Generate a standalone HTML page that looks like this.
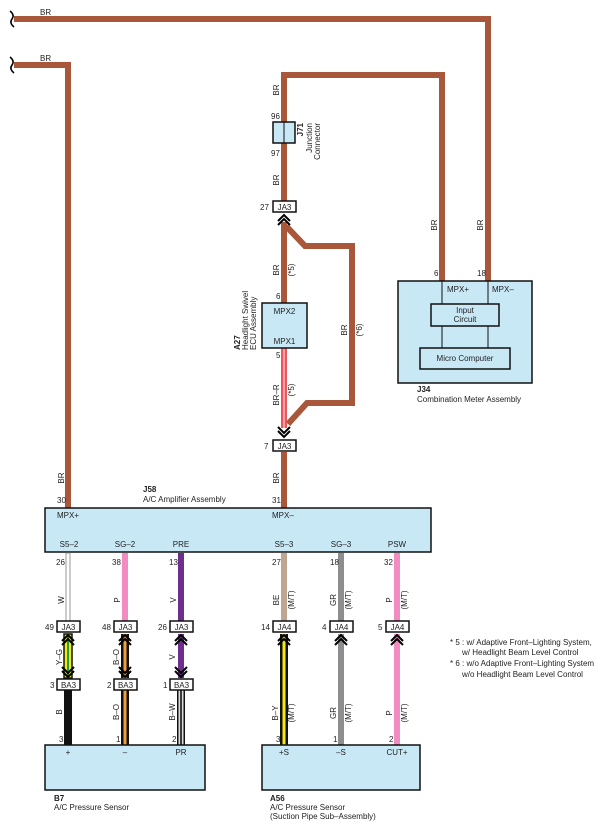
<!DOCTYPE html>
<html><head><meta charset="utf-8"><style>
html,body{margin:0;padding:0;background:#fff;}
svg{display:block;font-family:"Liberation Sans",sans-serif;}
text{font-size:8px;fill:#222;}
.b{font-weight:bold;}
</style></head><body>
<svg width="606" height="830" viewBox="0 0 606 830" xmlns="http://www.w3.org/2000/svg">
<defs>
<g id="chu"><path d="M-6,6 L0,0 L6,6 M-6,10 L0,4 L6,10" fill="none" stroke="#000" stroke-width="2"/></g>
<g id="chd"><path d="M-6,-6 L0,0 L6,-6 M-6,-10 L0,-4 L6,-10" fill="none" stroke="#000" stroke-width="2"/></g>
</defs>
<g fill="none" stroke="#a9573a" stroke-width="6">
<path d="M14,19 H488 V281"/>
<path d="M14,65 H68 V508"/>
<path d="M284,122 V75 H442 V281"/>
<path d="M284,143 V201"/>
<path d="M284,222 V303"/>
<path d="M286,226 L305,246 H352 V403 H307 L288,424"/>
<path d="M284,452 V508"/>
</g>
<path d="M10,11 q5,4 2,8 q-3,4 2,8" fill="none" stroke="#000" stroke-width="1.5"/>
<path d="M10,57 q5,4 2,8 q-3,4 2,8" fill="none" stroke="#000" stroke-width="1.5"/>
<text x="40" y="15">BR</text>
<text x="40" y="61">BR</text>
<!-- BR-R -->
<rect x="281" y="348" width="6" height="80" fill="#e8585a"/>
<rect x="283.3" y="348" width="1.4" height="80" fill="#f8c0c0"/>
<!-- J71 -->
<rect x="273" y="122" width="22" height="21" fill="#c8e8f6" stroke="#111" stroke-width="1.5"/>
<line x1="284" y1="122" x2="284" y2="143" stroke="#111" stroke-width="1"/>
<text x="271" y="119">96</text><text x="271" y="156">97</text>
<text transform="translate(303,123) rotate(-90)" text-anchor="end" class="b">J71</text>
<text transform="translate(312,123) rotate(-90)" text-anchor="end">Junction</text>
<text transform="translate(320,123) rotate(-90)" text-anchor="end">Connector</text>
<text transform="translate(279,90) rotate(-90)" text-anchor="middle">BR</text>
<text transform="translate(279,180) rotate(-90)" text-anchor="middle">BR</text>
<!-- JA3 27 -->
<rect x="273" y="201" width="23" height="11" fill="#fff" stroke="#111" stroke-width="1.5"/>
<text x="284.5" y="210" text-anchor="middle">JA3</text><text x="260" y="210">27</text>
<use href="#chu" x="284" y="215"/>
<text transform="translate(279,270) rotate(-90)" text-anchor="middle">BR</text>
<text transform="translate(294,270) rotate(-90)" text-anchor="middle">(*5)</text>
<text transform="translate(347,330) rotate(-90)" text-anchor="middle">BR</text>
<text transform="translate(362,330) rotate(-90)" text-anchor="middle">(*6)</text>
<!-- A27 -->
<rect x="262" y="303" width="45" height="45" fill="#c8e8f6" stroke="#111" stroke-width="1.5"/>
<text x="284.5" y="314" text-anchor="middle">MPX2</text>
<text x="284.5" y="344" text-anchor="middle">MPX1</text>
<text x="276" y="299">6</text><text x="276" y="358">5</text>
<text transform="translate(240,350) rotate(-90)" class="b">A27</text>
<text transform="translate(248,350) rotate(-90)">Headlight Swivel</text>
<text transform="translate(256,350) rotate(-90)">ECU Assembly</text>
<text transform="translate(279,395) rotate(-90)" text-anchor="middle">BR–R</text>
<text transform="translate(294,390) rotate(-90)" text-anchor="middle">(*5)</text>
<use href="#chd" x="284" y="437"/>
<rect x="273" y="440" width="23" height="11" fill="#fff" stroke="#111" stroke-width="1.5"/>
<text x="284.5" y="449" text-anchor="middle">JA3</text><text x="264" y="449">7</text>
<text transform="translate(279,478) rotate(-90)" text-anchor="middle">BR</text>
<text transform="translate(64,478) rotate(-90)" text-anchor="middle">BR</text>
<!-- J34 -->
<rect x="398" y="281" width="134" height="102" fill="#c8e8f6" stroke="#111" stroke-width="1.5"/>
<line x1="442" y1="281" x2="442" y2="348" stroke="#111"/>
<line x1="488" y1="281" x2="488" y2="348" stroke="#111"/>
<rect x="431" y="304" width="68" height="22" fill="#c8e8f6" stroke="#111" stroke-width="1.5"/>
<rect x="420" y="348" width="90" height="21" fill="#c8e8f6" stroke="#111" stroke-width="1.5"/>
<text x="447" y="292">MPX+</text><text x="492" y="292">MPX–</text>
<text x="465" y="313" text-anchor="middle">Input</text>
<text x="465" y="322" text-anchor="middle">Circuit</text>
<text x="465" y="361" text-anchor="middle">Micro Computer</text>
<text x="434" y="276">6</text><text x="477" y="276">18</text>
<text transform="translate(437,225) rotate(-90)" text-anchor="middle">BR</text>
<text transform="translate(483,225) rotate(-90)" text-anchor="middle">BR</text>
<text x="417" y="392" class="b">J34</text>
<text x="417" y="402">Combination Meter Assembly</text>
<!-- J58 -->
<text x="143" y="492" class="b">J58</text>
<text x="143" y="502">A/C Amplifier Assembly</text>
<text x="57" y="503">30</text><text x="272" y="503">31</text>
<rect x="45" y="508" width="386" height="44" fill="#c8e8f6" stroke="#111" stroke-width="1.5"/>
<text x="57" y="518">MPX+</text><text x="272" y="518">MPX–</text>
<g text-anchor="middle">
<text x="69" y="547">S5–2</text><text x="125" y="547">SG–2</text><text x="181" y="547">PRE</text>
<text x="284" y="547">S5–3</text><text x="341" y="547">SG–3</text><text x="397" y="547">PSW</text>
</g>
<!-- upper wires -->
<rect x="66" y="553" width="4" height="68" fill="#fff" stroke="#999" stroke-width="1"/>
<rect x="122" y="553" width="6" height="68" fill="#f28bbf"/>
<rect x="178" y="553" width="6" height="68" fill="#6e2e8e"/>
<rect x="281" y="553" width="6" height="68" fill="#bfa690"/>
<rect x="338" y="553" width="6" height="68" fill="#8e8e90"/>
<rect x="394" y="553" width="6" height="68" fill="#f28bbf"/>
<text x="56" y="565">26</text><text x="112" y="565">38</text><text x="169" y="565">13</text>
<text x="272" y="565">27</text><text x="330" y="565">18</text><text x="384" y="565">32</text>
<g text-anchor="middle">
<text transform="translate(64,600) rotate(-90)">W</text>
<text transform="translate(120,600) rotate(-90)">P</text>
<text transform="translate(176,600) rotate(-90)">V</text>
<text transform="translate(279,600) rotate(-90)">BE</text>
<text transform="translate(294,600) rotate(-90)">(M/T)</text>
<text transform="translate(336,600) rotate(-90)">GR</text>
<text transform="translate(351,600) rotate(-90)">(M/T)</text>
<text transform="translate(392,600) rotate(-90)">P</text>
<text transform="translate(407,600) rotate(-90)">(M/T)</text>
</g>
<!-- middle wires B7 side -->
<rect x="64" y="634" width="8" height="44" fill="#f5ea10" stroke="#111" stroke-width="1.5"/>
<rect x="67" y="634" width="2" height="44" fill="#1a9a4a"/>
<rect x="121" y="634" width="8" height="44" fill="#111"/>
<rect x="123.5" y="634" width="3" height="44" fill="#f0a040"/>
<rect x="178" y="634" width="6" height="44" fill="#6e2e8e"/>
<!-- lower wires B7 side -->
<rect x="64" y="690" width="8" height="55" fill="#111"/>
<rect x="121" y="690" width="8" height="55" fill="#111"/>
<rect x="123.5" y="690" width="3" height="55" fill="#f0a040"/>
<rect x="177" y="690" width="8" height="55" fill="#111"/>
<rect x="178.5" y="690" width="1.7" height="55" fill="#ddd"/>
<rect x="181.8" y="690" width="1.7" height="55" fill="#ddd"/>
<!-- A56 side -->
<rect x="280" y="634" width="8" height="111" fill="#111"/>
<rect x="282.5" y="634" width="3" height="111" fill="#f5ea10"/>
<rect x="338" y="634" width="6" height="111" fill="#8e8e90"/>
<rect x="394" y="634" width="6" height="111" fill="#f28bbf"/>
<!-- connectors row -->
<g stroke="#111" stroke-width="1.5" fill="#fff">
<rect x="57" y="621" width="23" height="11"/><rect x="114" y="621" width="23" height="11"/><rect x="170" y="621" width="23" height="11"/>
<rect x="57" y="679" width="23" height="11"/><rect x="114" y="679" width="23" height="11"/><rect x="170" y="679" width="23" height="11"/>
<rect x="273" y="621" width="23" height="11"/><rect x="330" y="621" width="23" height="11"/><rect x="386" y="621" width="23" height="11"/>
</g>
<g text-anchor="middle">
<text x="68.5" y="630">JA3</text><text x="125.5" y="630">JA3</text><text x="181.5" y="630">JA3</text>
<text x="68.5" y="688">BA3</text><text x="125.5" y="688">BA3</text><text x="181.5" y="688">BA3</text>
<text x="284.5" y="630">JA4</text><text x="341.5" y="630">JA4</text><text x="397.5" y="630">JA4</text>
</g>
<text x="45" y="630">49</text><text x="102" y="630">48</text><text x="158" y="630">26</text>
<text x="50" y="688">3</text><text x="107" y="688">2</text><text x="163" y="688">1</text>
<text x="261" y="630">14</text><text x="322" y="630">4</text><text x="378" y="630">5</text>
<use href="#chu" x="68" y="635"/><use href="#chu" x="125" y="635"/><use href="#chu" x="181" y="635"/>
<use href="#chd" x="68" y="677"/><use href="#chd" x="125" y="677"/><use href="#chd" x="181" y="677"/>
<use href="#chu" x="284" y="635"/><use href="#chu" x="341" y="635"/><use href="#chu" x="397" y="635"/>
<g text-anchor="middle">
<text transform="translate(62,657) rotate(-90)">Y–G</text>
<text transform="translate(119,657) rotate(-90)">B–O</text>
<text transform="translate(175,657) rotate(-90)">V</text>
<text transform="translate(62,712) rotate(-90)">B</text>
<text transform="translate(119,712) rotate(-90)">B–O</text>
<text transform="translate(175,712) rotate(-90)">B–W</text>
<text transform="translate(278,713) rotate(-90)">B–Y</text>
<text transform="translate(294,713) rotate(-90)">(M/T)</text>
<text transform="translate(336,713) rotate(-90)">GR</text>
<text transform="translate(351,713) rotate(-90)">(M/T)</text>
<text transform="translate(392,713) rotate(-90)">P</text>
<text transform="translate(407,713) rotate(-90)">(M/T)</text>
</g>
<text x="59" y="742">3</text><text x="116" y="742">1</text><text x="172" y="742">2</text>
<text x="276" y="742">3</text><text x="333" y="742">1</text><text x="389" y="742">2</text>
<!-- sensors -->
<rect x="45" y="745" width="160" height="45" fill="#c8e8f6" stroke="#111" stroke-width="1.5"/>
<rect x="262" y="745" width="158" height="45" fill="#c8e8f6" stroke="#111" stroke-width="1.5"/>
<g text-anchor="middle">
<text x="68" y="755">+</text><text x="125" y="755">–</text><text x="181" y="755">PR</text>
<text x="284" y="755">+S</text><text x="341" y="755">–S</text><text x="397" y="755">CUT+</text>
</g>
<text x="54" y="801" class="b">B7</text>
<text x="54" y="810">A/C Pressure Sensor</text>
<text x="270" y="801" class="b">A56</text>
<text x="270" y="810">A/C Pressure Sensor</text>
<text x="270" y="819">(Suction Pipe Sub–Assembly)</text>
<!-- notes -->
<text x="450" y="645">* 5 : w/ Adaptive Front–Lighting System,</text>
<text x="462" y="655">w/ Headlight Beam Level Control</text>
<text x="450" y="666">* 6 : w/o Adaptive Front–Lighting System</text>
<text x="462" y="677">w/o Headlight Beam Level Control</text>
</svg>
</body></html>
